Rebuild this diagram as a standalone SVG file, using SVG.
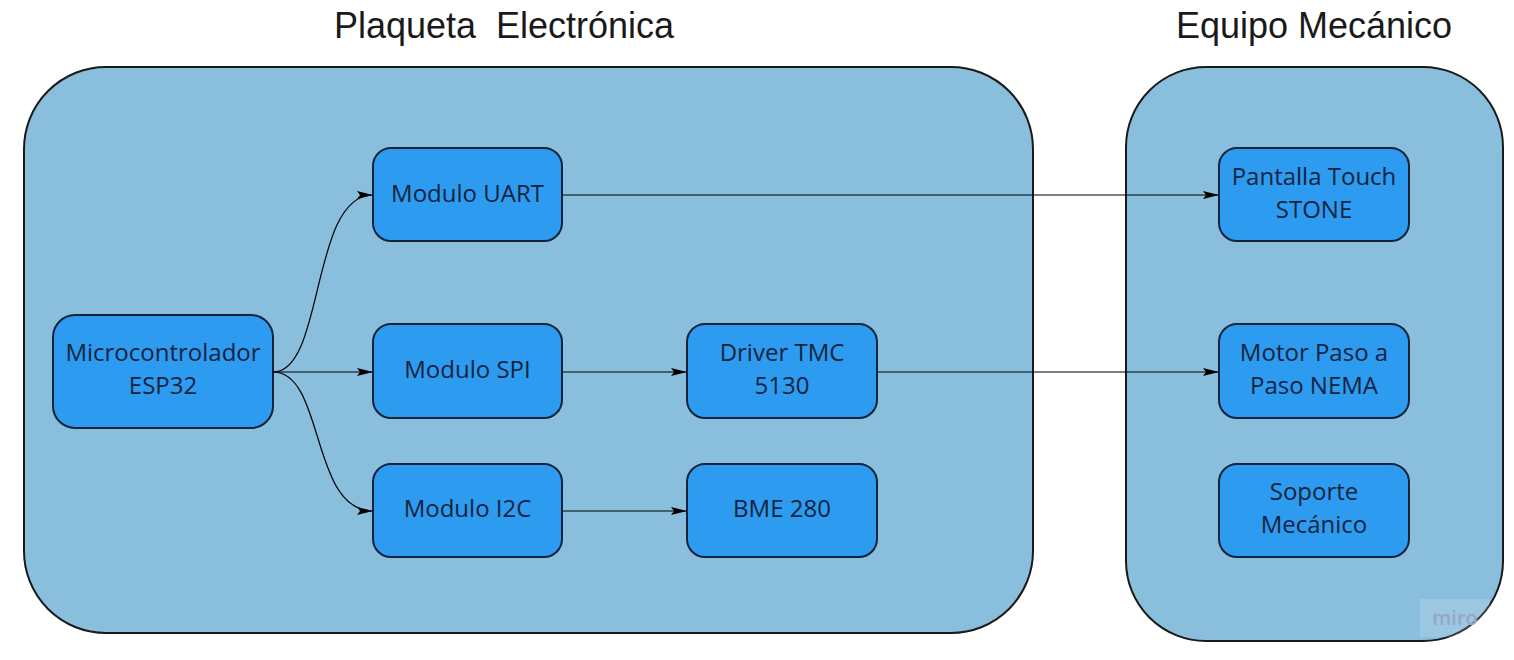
<svg xmlns="http://www.w3.org/2000/svg" width="1514" height="660" viewBox="0 0 1514 660">
<defs>
<style>
.cont{fill:#89bedc;stroke:#1a1a1a;stroke-width:2}
.node{fill:#2d9bf0;stroke:#14233a;stroke-width:2}
.title{font-family:"Liberation Sans",Arial,sans-serif;font-size:36px;fill:#1a1a1a;text-anchor:middle;white-space:pre}
.lbl{font-family:"Open Sans","Noto Sans",sans-serif;font-size:24px;fill:#13233d;text-anchor:middle}
.edge{fill:none;stroke:#000;stroke-width:1.2}
</style>
<marker id="arr" viewBox="0 0 16 8" refX="16" refY="4" markerWidth="16" markerHeight="8" markerUnits="userSpaceOnUse" orient="auto">
<path d="M0,0 L16,4 L0,8 L3,4 Z" fill="#000"/>
</marker>
</defs>
<rect width="1514" height="660" fill="#fff"/>
<g id="container-plaqueta">
<rect class="cont" x="24" y="67" width="1009" height="566" rx="82" ry="82"/>
<text class="title" x="504" y="38" xml:space="preserve">Plaqueta  Electrónica</text>
</g>
<g id="container-equipo">
<rect class="cont" x="1126" y="67" width="377" height="574" rx="80" ry="80"/>
<text class="title" x="1314" y="38">Equipo Mecánico</text>
</g>
<g id="connectors">
<path class="edge" d="M273,372 C325,372 310,195 373,195" marker-end="url(#arr)"/>
<path class="edge" d="M273,372 L373,372" marker-end="url(#arr)"/>
<path class="edge" d="M273,372 C325,372 310,511 373,511" marker-end="url(#arr)"/>
<path class="edge" d="M562,195 L1219,195" marker-end="url(#arr)"/>
<path class="edge" d="M562,372 L687,372" marker-end="url(#arr)"/>
<path class="edge" d="M877,372 L1219,372" marker-end="url(#arr)"/>
<path class="edge" d="M562,511 L687,511" marker-end="url(#arr)"/>
</g>
<g id="node-micro">
<rect class="node" x="53" y="315" width="220" height="113" rx="22"/>
<text class="lbl" x="163" y="361">Microcontrolador</text>
<text class="lbl" x="163" y="394">ESP32</text>
</g>
<g id="node-uart">
<rect class="node" x="373" y="148" width="189" height="93" rx="18"/>
<text class="lbl" x="467.5" y="202">Modulo UART</text>
</g>
<g id="node-spi">
<rect class="node" x="373" y="324" width="189" height="94" rx="18"/>
<text class="lbl" x="467.5" y="378">Modulo SPI</text>
</g>
<g id="node-i2c">
<rect class="node" x="373" y="464" width="189" height="93" rx="18"/>
<text class="lbl" x="467.5" y="517">Modulo I2C</text>
</g>
<g id="node-driver">
<rect class="node" x="687" y="324" width="190" height="94" rx="18"/>
<text class="lbl" x="782" y="361">Driver TMC</text>
<text class="lbl" x="782" y="394">5130</text>
</g>
<g id="node-bme">
<rect class="node" x="687" y="464" width="190" height="93" rx="18"/>
<text class="lbl" x="782" y="517">BME 280</text>
</g>
<g id="node-pantalla">
<rect class="node" x="1219" y="148" width="190" height="93" rx="18"/>
<text class="lbl" x="1314" y="185">Pantalla Touch</text>
<text class="lbl" x="1314" y="218">STONE</text>
</g>
<g id="node-motor">
<rect class="node" x="1219" y="324" width="190" height="94" rx="18"/>
<text class="lbl" x="1314" y="361">Motor Paso a</text>
<text class="lbl" x="1314" y="394">Paso NEMA</text>
</g>
<g id="node-soporte">
<rect class="node" x="1219" y="464" width="190" height="93" rx="18"/>
<text class="lbl" x="1314" y="500">Soporte</text>
<text class="lbl" x="1314" y="533">Mecánico</text>
</g>
<g id="watermark">
<rect x="1420" y="599" width="70" height="38" fill="#ffffff" fill-opacity="0.15"/>
<text x="1455" y="625" font-family="'Open Sans',sans-serif" font-size="20" font-weight="600" fill="#9aa5c6" text-anchor="middle">miro</text>
</g>
</svg>
